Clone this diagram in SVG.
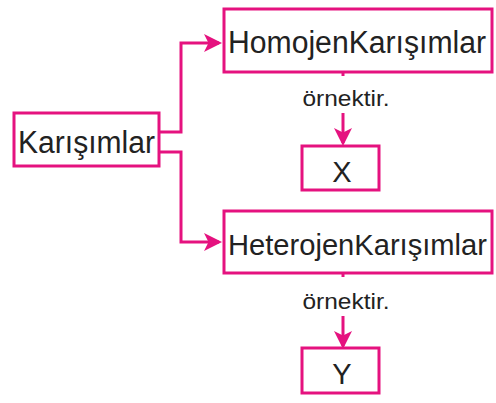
<svg xmlns="http://www.w3.org/2000/svg" width="496" height="403" viewBox="0 0 496 403">
<defs>
<style>
.box{fill:#fff;stroke:#e5127f;stroke-width:3}
.ln{fill:none;stroke:#e5127f;stroke-width:3}
.t{font-family:"Liberation Sans",Arial,sans-serif;fill:#222}
.big{font-size:31px}
.sm{font-size:22px}
</style>
<marker id="ah" markerWidth="6" markerHeight="6" refX="5" refY="3" orient="auto" markerUnits="strokeWidth">
<path d="M0,0 L6,3 L0,6 L1.5,3 Z" fill="#e5127f"/>
</marker>
</defs>
<rect width="496" height="403" fill="#fff"/>
<g id="connectors">
<path class="ln" d="M159,132 H181 V43 H219" marker-end="url(#ah)"/>
<path class="ln" d="M159,152 H181 V242 H219" marker-end="url(#ah)"/>
<path class="ln" d="M343,72 V76"/>
<path class="ln" d="M343,113 V143" marker-end="url(#ah)"/>
<path class="ln" d="M343,273 V277"/>
<path class="ln" d="M343,316 V346" marker-end="url(#ah)"/>
</g>
<g id="karisimlar">
<rect class="box" x="14" y="113" width="145" height="53"/>
<text class="t big" x="18" y="153" textLength="137" lengthAdjust="spacingAndGlyphs">Karışımlar</text>
</g>
<g id="homojen">
<rect class="box" x="224" y="9" width="268" height="63"/>
<text class="t big" x="228" y="53" textLength="258" lengthAdjust="spacingAndGlyphs">HomojenKarışımlar</text>
</g>
<g id="ornek1">
<text class="t sm" x="346" y="106" text-anchor="middle" textLength="87" lengthAdjust="spacingAndGlyphs">örnektir.</text>
</g>
<g id="x">
<rect class="box" x="302" y="146" width="77" height="44"/>
<text class="t" x="342" y="182" font-size="29" text-anchor="middle">X</text>
</g>
<g id="heterojen">
<rect class="box" x="224" y="211" width="268" height="62"/>
<text class="t" font-size="29.5" x="228" y="255" textLength="259" lengthAdjust="spacingAndGlyphs">HeterojenKarışımlar</text>
</g>
<g id="ornek2">
<text class="t sm" x="346" y="309" text-anchor="middle" textLength="87" lengthAdjust="spacingAndGlyphs">örnektir.</text>
</g>
<g id="y">
<rect class="box" x="302" y="348" width="77" height="45"/>
<text class="t" x="342" y="384" font-size="29" text-anchor="middle">Y</text>
</g>
</svg>
